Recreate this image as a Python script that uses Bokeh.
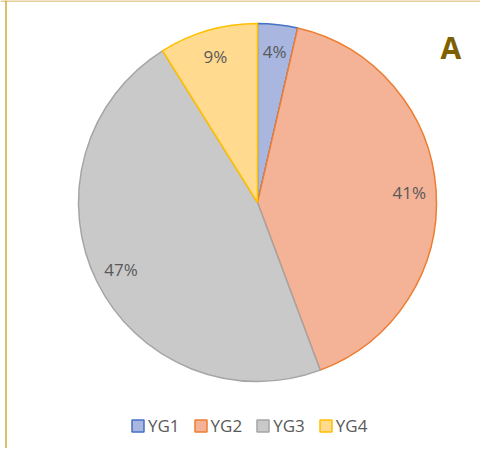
import numpy as np
from bokeh.plotting import figure
from bokeh.models import Range1d, Span, Label, Legend, LegendItem, ColumnDataSource
from bokeh.core.properties import value
from bokeh.embed import file_html
from bokeh.resources import INLINE

categories = ["YG1", "YG2", "YG3", "YG4"]
shares = [3.6, 40.7, 46.8, 8.9]
pct_labels = ["4%", "41%", "47%", "9%"]
fill_colors = ["#A8B6E0", "#F4B296", "#C9C9C9", "#FFDA8F"]
edge_colors = ["#4472C4", "#ED7D31", "#A5A5A5", "#FFC000"]
panel_label = "A"

W, H = 480, 448
cx, cy, R = 257, 246, 179

vals = np.array(shares, dtype=float)
frac = vals / vals.sum()
cum = np.concatenate([[0.0], np.cumsum(frac)])
start = np.pi / 2 - cum[:-1] * 2 * np.pi
end = np.pi / 2 - cum[1:] * 2 * np.pi
mid = (start + end) / 2
lr = 0.85 * R

src = ColumnDataSource(dict(
    cat=categories, start=start, end=end, fill=fill_colors, edge=edge_colors,
    lx=cx + lr * np.cos(mid), ly=cy + lr * np.sin(mid), lab=pct_labels,
))

p = figure(width=W, height=H, x_range=Range1d(0, W), y_range=Range1d(0, H),
           output_backend="svg", toolbar_location=None, min_border=0,
           x_axis_type=None, y_axis_type=None, outline_line_color=None,
           background_fill_color="white", border_fill_color="white")
p.grid.visible = False

r = p.wedge(x=cx, y=cy, radius=R, start_angle="start", end_angle="end",
            direction="clock", fill_color="fill", line_color="edge",
            line_width=1.5, source=src)

p.text(x="lx", y="ly", text="lab", source=src, text_align="center",
       text_baseline="middle", text_font=value("Open Sans"),
       text_font_size="17px", text_color="#595959")

legend = Legend(items=[LegendItem(label=c, renderers=[r], index=i) for i, c in enumerate(categories)],
                orientation="horizontal", location=(130, 11),
                glyph_width=15, glyph_height=15, label_standoff=3, spacing=13,
                label_height=20, padding=0, margin=0,
                border_line_color=None, background_fill_alpha=0,
                label_text_font="Open Sans", label_text_font_size="17px",
                label_text_color="#595959")
p.add_layout(legend)

p.add_layout(Span(location=5.5, dimension="height", line_color="#D2A83A", line_width=1.5))
p.add_layout(Span(location=H - 0.5, dimension="width", line_color="#C9A030", line_width=1.2))

p.add_layout(Label(x=440, y=401, text=panel_label, text_font="Open Sans",
                   text_font_size="30px", text_font_style="bold",
                   text_color="#7F6000", text_baseline="alphabetic"))

open("out.html", "w").write(file_html(p, INLINE))
